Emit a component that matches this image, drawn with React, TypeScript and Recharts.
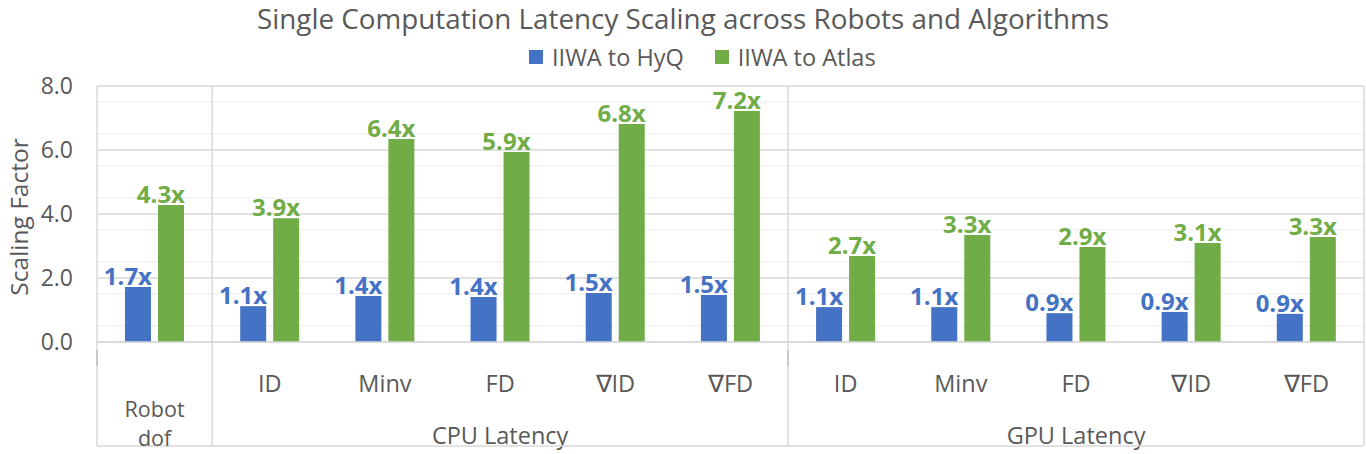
import React from "react";
import { BarChart, Bar, XAxis, YAxis, CartesianGrid, LabelList } from "recharts";

// data
const categories = ["Robot dof", "ID", "Minv", "FD", "∇ID", "∇FD", "ID", "Minv", "FD", "∇ID", "∇FD"];
const groups = ["", "CPU Latency", "CPU Latency", "CPU Latency", "CPU Latency", "CPU Latency", "GPU Latency", "GPU Latency", "GPU Latency", "GPU Latency", "GPU Latency"];
const hyqValues = [1.72, 1.12, 1.44, 1.41, 1.53, 1.47, 1.09, 1.09, 0.9, 0.94, 0.88];
const atlasValues = [4.28, 3.87, 6.34, 5.94, 6.81, 7.22, 2.69, 3.34, 2.97, 3.09, 3.28];
const hyqLabels = ["1.7x", "1.1x", "1.4x", "1.4x", "1.5x", "1.5x", "1.1x", "1.1x", "0.9x", "0.9x", "0.9x"];
const atlasLabels = ["4.3x", "3.9x", "6.4x", "5.9x", "6.8x", "7.2x", "2.7x", "3.3x", "2.9x", "3.1x", "3.3x"];
const yTicks = [0, 2, 4, 6, 8];
const minorTicks = [0.5, 1, 1.5, 2.5, 3, 3.5, 4.5, 5, 5.5, 6.5, 7, 7.5];

const BLUE = "#4472C4";
const GREEN = "#70AD47";
const TEXT = "#595959";
const LINE = "#D9D9D9";
const FONT = "'Open Sans', sans-serif";

const W = 1366;
const H = 454;
const TOP = 86;
const Y_W = 97;
const RIGHT = 2;
const X_H = 112;
const BAND = (W - Y_W - RIGHT) / categories.length;
const BOTTOM_LINE = 446;

if (typeof document !== "undefined") document.body.style.margin = "0";

const data = categories.map((c, i) => ({
  key: `${groups[i]}-${c}-${i}`,
  hyq: hyqValues[i],
  atlas: atlasValues[i],
  hyqLabel: hyqLabels[i],
  atlasLabel: atlasLabels[i],
}));

const CategoryTick = (props: any) => {
  const { x, y, index } = props;
  const left = x - BAND / 2;
  const right = x + BAND / 2;
  const group = groups[index];
  const isStart = index === 0 || groups[index - 1] !== group;
  const isEnd = index === categories.length - 1;
  const members = groups.map((g, i) => (g === group ? i : -1)).filter((i) => i >= 0);
  const isMiddle = group !== "" && members[Math.floor(members.length / 2)] === index;
  const groupCenter = x + (members.length % 2 === 0 ? -0.5 : 0) * BAND;
  return (
    <g>
      {isStart && <line x1={left} x2={left} y1={TOP} y2={BOTTOM_LINE} stroke={LINE} strokeWidth={1.5} />}
      {isStart && (index === 0 || index === 6) && (
        <line x1={left} x2={left} y1={y} y2={y + 16} stroke="#BFBFBF" strokeWidth={1.5} />
      )}
      {isEnd && <line x1={right} x2={right} y1={TOP} y2={BOTTOM_LINE} stroke={LINE} strokeWidth={1.5} />}
      <line x1={left} x2={right} y1={BOTTOM_LINE} y2={BOTTOM_LINE} stroke={LINE} strokeWidth={1.5} />
      {group === "" ? (
        categories[index].split(" ").map((w, i) => (
          <text key={i} x={x} y={y + 67 + i * 29} textAnchor="middle" fill={TEXT} fontSize={21.5} fontFamily={FONT}>
            {w}
          </text>
        ))
      ) : (
        <text x={x} y={y + 42} textAnchor="middle" fill={TEXT} fontSize={23.5} fontFamily={FONT}>
          {categories[index]}
        </text>
      )}
      {isMiddle && (
        <text x={groupCenter} y={y + 94} textAnchor="middle" fill={TEXT} fontSize={23.5} fontFamily={FONT}>
          {group}
        </text>
      )}
    </g>
  );
};

const makeLabel = (color: string) => (props: any) => {
  const { x, y, width, value } = props;
  return (
    <text x={x + width + 1} y={y - 2} textAnchor="end" fill={color} fontSize={24} fontWeight="bold" fontFamily={FONT}>
      {value}
    </text>
  );
};

export default function App() {
  return (
    <div style={{ position: "relative", width: W, height: H, background: "#fff", fontFamily: FONT }}>
      <div
        style={{
          position: "absolute",
          top: 0,
          left: 0,
          width: W,
          textAlign: "center",
          fontSize: 27.8,
          color: TEXT,
          lineHeight: "36px",
        }}
      >
        Single Computation Latency Scaling across Robots and Algorithms
      </div>
      <div
        style={{
          position: "absolute",
          top: 41,
          left: 529,
          display: "flex",
          gap: 31,
          fontSize: 23.5,
          color: TEXT,
          lineHeight: "32px",
          whiteSpace: "nowrap",
        }}
      >
        <span style={{ display: "flex", alignItems: "center" }}>
          <span style={{ width: 14, height: 14, background: BLUE, marginRight: 9, display: "inline-block" }} />
          IIWA to HyQ
        </span>
        <span style={{ display: "flex", alignItems: "center" }}>
          <span style={{ width: 14, height: 14, background: GREEN, marginRight: 9, display: "inline-block" }} />
          IIWA to Atlas
        </span>
      </div>
      <div style={{ position: "absolute", top: 0, left: 0 }}>
        <BarChart
          width={W}
          height={H}
          data={data}
          margin={{ top: TOP, right: RIGHT, bottom: 0, left: 0 }}
          barGap={7}
          barSize={26}
        >
          <CartesianGrid horizontal vertical={false} horizontalValues={minorTicks} stroke="#EEEEEE" strokeWidth={1.2} />
          <CartesianGrid horizontal vertical={false} horizontalValues={yTicks} stroke={LINE} strokeWidth={1.5} />
          <XAxis
            dataKey="key"
            height={X_H}
            interval={0}
            tickLine={false}
            axisLine={{ stroke: LINE, strokeWidth: 1.5 }}
            tick={<CategoryTick />}
          />
          <YAxis
            width={Y_W}
            domain={[0, 8]}
            ticks={yTicks}
            tickFormatter={(v: number) => v.toFixed(1)}
            axisLine={false}
            tickLine={false}
            tick={{ fill: TEXT, fontSize: 23, fontFamily: FONT }}
            tickMargin={18}
            label={{
              value: "Scaling Factor",
              angle: -90,
              position: "insideLeft",
              offset: 19,
              dy: 3,
              style: { fill: TEXT, fontSize: 24.5, fontFamily: FONT, textAnchor: "middle" },
            }}
          />
          <Bar dataKey="hyq" fill={BLUE} isAnimationActive={false}>
            <LabelList dataKey="hyqLabel" content={makeLabel(BLUE)} />
          </Bar>
          <Bar dataKey="atlas" fill={GREEN} isAnimationActive={false}>
            <LabelList dataKey="atlasLabel" content={makeLabel(GREEN)} />
          </Bar>
        </BarChart>
      </div>
    </div>
  );
}
